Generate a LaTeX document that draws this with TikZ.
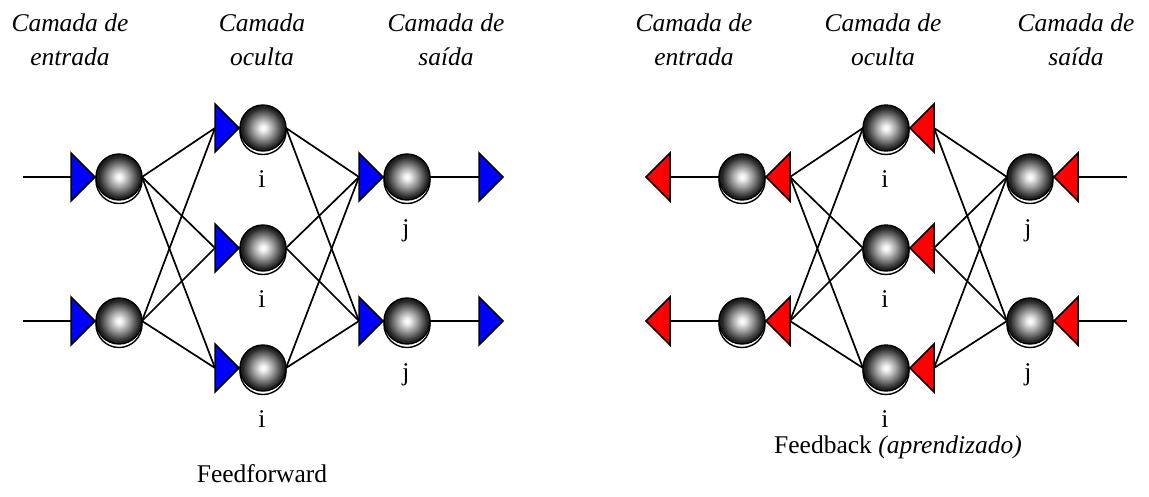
\documentclass[tikz,border=0pt]{standalone}
\usepackage{fontspec}
\setmainfont{Liberation Serif}
\pgfdeclareradialshading{spherish}{\pgfpoint{0bp}{0bp}}{color(0bp)=(white); color(3bp)=(white!95!black); color(11bp)=(black!38); color(18bp)=(black!68); color(22bp)=(black!85); color(25bp)=(black!90); color(50bp)=(black!90)}
\tikzset{
  wire/.style={draw=black, line width=1.7pt},
  btri/.style={draw=black, line width=1.5pt, fill=blue, line join=miter},
  rtri/.style={draw=black, line width=1.5pt, fill=red, line join=miter},
  neuron/.style={circle, minimum size=46pt, inner sep=0pt, outer sep=0pt, draw=black, line width=1.4pt, shading=spherish},
  neuronback/.style={circle, minimum size=46pt, inner sep=0pt, draw=black, line width=1.4pt, fill=white},
  hdr/.style={font=\itshape, align=center, anchor=north, inner sep=0pt},
  lbl/.style={anchor=base, inner sep=0pt},
}
\newcommand\mkneuron[3]{\node[neuronback] (#1-b) at (#2,#3+3.5) {}; \node[neuron] (#1) at (#2,#3) {};}
\newcommand\mkrtri[4]{\coordinate (#2) at (#3,#4); \draw[#1] (#2) ++(0,-24) -- ++(24,24) -- ++(-24,24) -- cycle;}
\newcommand\mkltri[4]{\coordinate (#2) at (#3,#4); \draw[#1] (#2) ++(0,-24) -- ++(-24,24) -- ++(24,24) -- cycle;}
\begin{document}
\begin{tikzpicture}[x=1pt,y=-1pt]
\fontsize{25.5}{34}\selectfont
\useasboundingbox (0,0) rectangle (1149,496);
% ---------- headers ----------
\node[hdr] (h1) at (70,13.6) {Camada de\\entrada};
\node[hdr] (h2) at (262,13.6) {Camada\\oculta};
\node[hdr] (h3) at (446,13.6) {Camada de\\saída};
\node[hdr] (h4) at (694,13.6) {Camada de\\entrada};
\node[hdr] (h5) at (883,13.6) {Camada de\\oculta};
\node[hdr] (h6) at (1076,13.6) {Camada de\\saída};
% ---------- left network (feedforward) ----------
\foreach \k/\y in {A/177,B/321}{
  \coordinate (LinS\k) at (23,\y);
  \mkrtri{btri}{Lt\k}{71}{\y}
  \mkneuron{Li\k}{119}{\y}
  \mkrtri{btri}{Lto\k}{359}{\y}
  \mkneuron{Lo\k}{407}{\y}
  \mkrtri{btri}{Ltf\k}{479}{\y}
  \node[lbl] (Lj\k) at (406,\y+59) {j};
}
\foreach \k/\y in {1/128,2/248,3/368}{
  \mkrtri{btri}{Lth\k}{215}{\y}
  \mkneuron{Lh\k}{263}{\y}
  \node[lbl] (Li-l\k) at (262,\y+59) {i};
}
\foreach \k in {A,B}{
  \draw[wire] (LinS\k) -- (Lt\k);
  \draw[wire] (Lo\k.east) -- (Ltf\k);
  \foreach \h in {1,2,3}{
    \draw[wire] (Li\k.east) -- (Lth\h);
    \draw[wire] (Lh\h.east) -- (Lto\k);
  }
}
% ---------- right network (feedback) ----------
\foreach \k/\y in {A/177,B/321}{
  \mkltri{rtri}{Rtf\k}{670}{\y}
  \mkneuron{Ro\k}{742}{\y}
  \mkltri{rtri}{Rto\k}{790}{\y}
  \mkneuron{Ri\k}{1030}{\y}
  \mkltri{rtri}{Rti\k}{1078}{\y}
  \coordinate (RinS\k) at (1127,\y);
  \node[lbl] (Rj\k) at (1028,\y+59) {j};
}
\foreach \k/\y in {1/128,2/248,3/368}{
  \mkneuron{Rh\k}{886}{\y}
  \mkltri{rtri}{Rth\k}{934}{\y}
  \node[lbl] (Ri-l\k) at (885,\y+59) {i};
}
\foreach \k in {A,B}{
  \draw[wire] (Ro\k.west) -- (Rtf\k);
  \draw[wire] (RinS\k) -- (Rti\k);
  \foreach \h in {1,2,3}{
    \draw[wire] (Rto\k) -- (Rh\h.west);
    \draw[wire] (Rth\h) -- (Ri\k.west);
  }
}
% ---------- captions ----------
\node[lbl] (cap1) at (262,482) {Feedforward};
\node[lbl] (cap2) at (898,453) {Feedback \textit{(aprendizado)}};
\end{tikzpicture}
\end{document}
